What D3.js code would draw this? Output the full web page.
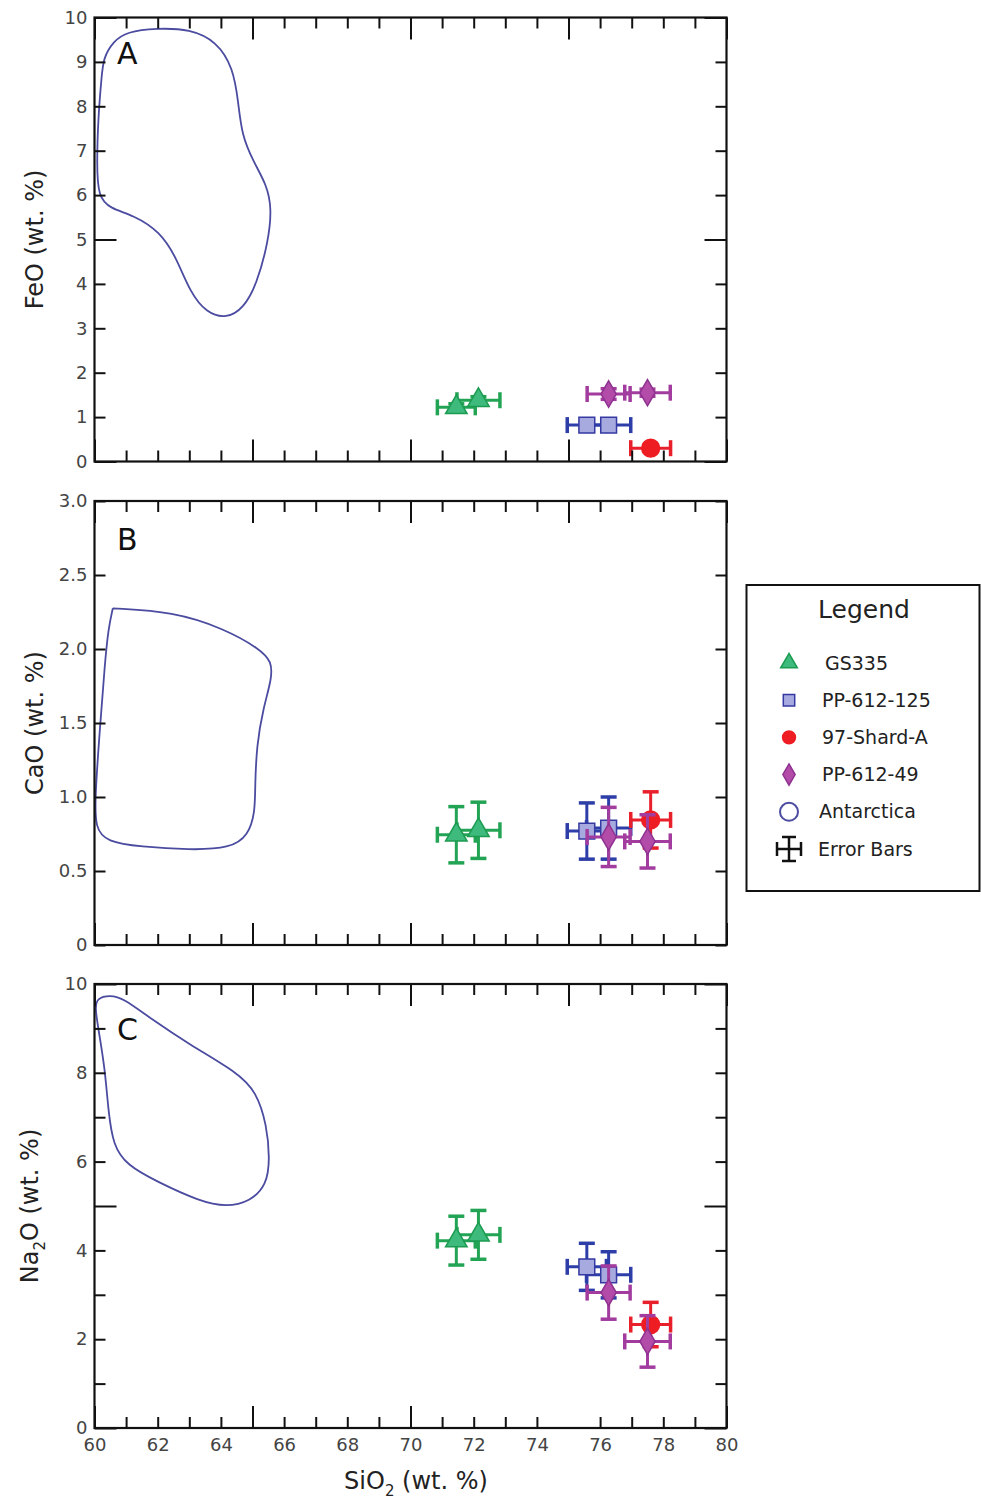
<!DOCTYPE html>
<html>
<head>
<meta charset="utf-8">
<script src="https://cdn.jsdelivr.net/npm/d3@7"></script>
<style>
  body { margin: 0; background: #fff; }
  svg text { font-family: "DejaVu Sans", sans-serif; }
</style>
</head>
<body>
<div id="chart"></div>
<script>
// sample names (legend order) and the points belonging to each one
const sampleNames = ["GS335", "PP-612-125", "97-Shard-A", "PP-612-49"];
const pointSample = ["GS335", "GS335", "PP-612-125", "PP-612-125", "97-Shard-A", "PP-612-49", "PP-612-49"];

// oxide values (wt. %) and 1-sigma errors for each point
const sio2    = [71.45, 72.15, 75.58, 76.27, 77.6, 76.27, 77.5];
const sio2Err = [0.6, 0.68, 0.62, 0.7, 0.63, 0.68, 0.72];
const feo     = [1.22, 1.38, 0.82, 0.82, 0.30, 1.52, 1.55];
const feoErr  = [0.08, 0.08, 0.08, 0.08, 0.08, 0.12, 0.08];
const cao     = [0.745, 0.775, 0.77, 0.79, 0.845, 0.73, 0.70];
const caoErr  = [0.19, 0.19, 0.19, 0.21, 0.19, 0.2, 0.18];
const na2o    = [4.22, 4.35, 3.63, 3.45, 2.33, 3.05, 1.95];
const na2oErr = [0.55, 0.55, 0.53, 0.52, 0.5, 0.6, 0.58];

// Antarctica outlines (closed curves)
const antFeoX = [60.28, 60.59, 61.02, 61.97, 63.02, 63.87, 64.39, 64.55, 64.66, 65.03, 65.45, 65.61, 65.50, 65.13, 64.71, 64.18, 63.55, 63.02, 62.60, 62.07, 61.23, 60.49, 60.12, 60.07, 60.12, 60.23];
const antFeoY = [9.08, 9.46, 9.68, 9.76, 9.74, 9.46, 8.86, 8.10, 7.35, 6.75, 6.23, 5.70, 4.95, 3.98, 3.45, 3.22, 3.34, 3.82, 4.58, 5.18, 5.55, 5.70, 5.96, 6.68, 7.80, 8.70];
const antCaoX = [60.58, 60.58, 60.58, 62.49, 64.08, 65.24, 65.61, 65.61, 65.34, 65.13, 65.08, 65.08, 64.87, 64.29, 63.02, 61.44, 60.39, 60.02, 60.02, 60.17, 60.33, 60.44];
const antCaoY = [2.275, 2.275, 2.275, 2.252, 2.14, 2.00, 1.914, 1.80, 1.60, 1.35, 1.06, 0.90, 0.74, 0.653, 0.642, 0.664, 0.698, 0.788, 1.01, 1.46, 1.91, 2.14];
const antNa2oX = [60.07, 60.49, 60.91, 61.76, 63.02, 64.50, 65.13, 65.45, 65.55, 65.45, 64.92, 64.18, 63.34, 61.97, 61.02, 60.59, 60.44, 60.33, 60.12, 60.02];
const antNa2oY = [9.68, 9.75, 9.68, 9.23, 8.63, 8.02, 7.57, 6.82, 6.07, 5.47, 5.10, 4.98, 5.10, 5.55, 5.92, 6.37, 7.12, 8.10, 9.0, 9.45];

// ticks
const sio2Ticks = d3.range(60, 80.5, 1);
const sio2Labels = d3.range(60, 80.5, 2);
const sio2BottomSkip = [75];
const feoTicks = d3.range(0, 10.5, 1);
const caoTicks = [0, 0.5, 1.0, 1.5, 2.0, 2.5, 3.0];
const na2oTicks = d3.range(0, 10.5, 1);
const na2oLabels = [0, 2, 4, 6, 8, 10];

const colors = {
    "GS335":      { fill: "#3dba7c", stroke: "#1c9b50", err: "#22a454" },
    "PP-612-125": { fill: "#a6aadf", stroke: "#3539a3", err: "#2e3ea8" },
    "97-Shard-A": { fill: "#ee1d24", stroke: "#ee1d24", err: "#e8202b" },
    "PP-612-49":  { fill: "#b24ca8", stroke: "#8f3190", err: "#a23c9e" }
};
const markerSize = { "GS335": 200, "PP-612-125": 250, "97-Shard-A": 250, "PP-612-49": 200 };
const legendSize = { "GS335": 120, "PP-612-125": 130, "97-Shard-A": 130, "PP-612-49": 130 };
const shapeType = {
    "GS335": d3.symbolTriangle,
    "PP-612-125": d3.symbolSquare,
    "97-Shard-A": d3.symbolCircle,
    "PP-612-49": d3.symbolDiamond
};
const outlineColor = "#4b4ca0";

const width = 981, height = 1502;
const left = 94.5, right = 726.5;

const svg = d3.select("#chart").append("svg")
    .attr("width", width)
    .attr("height", height);

const x = d3.scaleLinear().domain([60, 80]).range([left, right]);

const panels = [
    { letter: "A", top: 17.5, bottom: 461.5, domain: [0, 10], ticks: feoTicks, labels: feoTicks, major: 5,
      fmt: d => d3.format("d")(d), values: feo, errs: feoErr, antX: antFeoX, antY: antFeoY,
      title: [["FeO (wt. %)", 0]], letterY: 64, xLabels: false },
    { letter: "B", top: 501, bottom: 945, domain: [0, 3], ticks: caoTicks, labels: caoTicks, major: null,
      fmt: d => d === 0 ? "0" : d3.format(".1f")(d), values: cao, errs: caoErr, antX: antCaoX, antY: antCaoY,
      title: [["CaO (wt. %)", 0]], letterY: 550, xLabels: false },
    { letter: "C", top: 984, bottom: 1428, domain: [0, 10], ticks: na2oTicks, labels: na2oLabels, major: 5,
      fmt: d => d3.format("d")(d), values: na2o, errs: na2oErr, antX: antNa2oX, antY: antNa2oY,
      title: [["Na", 0], ["2", 1], ["O (wt. %)", -1]], letterY: 1040, xLabels: true }
];

const minorLen = 11, majorLen = 22, capLen = 16;

panels.forEach(p => {
    const y = d3.scaleLinear().domain(p.domain).range([p.bottom, p.top]);
    const g = svg.append("g");

    // Antarctica field
    const pts = p.antX.map((v, i) => [x(v), y(p.antY[i])]);
    g.append("path")
        .attr("d", d3.line().curve(d3.curveBasisClosed)(pts))
        .attr("fill", "none")
        .attr("stroke", outlineColor)
        .attr("stroke-width", 1.8);

    // error bars and markers, one sample at a time
    sampleNames.forEach(name => {
        const idx = pointSample.map((s, i) => s === name ? i : -1).filter(i => i >= 0);
        const c = colors[name];
        const eg = g.append("g").attr("stroke", c.err).attr("stroke-width", 3).attr("fill", "none");
        idx.forEach(i => {
            const cx = x(sio2[i]), cy = y(p.values[i]);
            const x0 = x(sio2[i] - sio2Err[i]), x1 = x(sio2[i] + sio2Err[i]);
            const y0 = y(p.values[i] - p.errs[i]), y1 = y(p.values[i] + p.errs[i]);
            eg.append("line").attr("x1", x0).attr("x2", x1).attr("y1", cy).attr("y2", cy);
            eg.append("line").attr("x1", x0).attr("x2", x0).attr("y1", cy - capLen / 2).attr("y2", cy + capLen / 2).attr("stroke-width", 3.5);
            eg.append("line").attr("x1", x1).attr("x2", x1).attr("y1", cy - capLen / 2).attr("y2", cy + capLen / 2).attr("stroke-width", 3.5);
            eg.append("line").attr("x1", cx).attr("x2", cx).attr("y1", y0).attr("y2", y1);
            eg.append("line").attr("x1", cx - capLen / 2).attr("x2", cx + capLen / 2).attr("y1", y0).attr("y2", y0).attr("stroke-width", 3.5);
            eg.append("line").attr("x1", cx - capLen / 2).attr("x2", cx + capLen / 2).attr("y1", y1).attr("y2", y1).attr("stroke-width", 3.5);
        });
        g.selectAll(null)
            .data(idx)
            .join("path")
            .attr("d", d3.symbol(shapeType[name], markerSize[name]))
            .attr("transform", i => `translate(${x(sio2[i])},${y(p.values[i])})`)
            .attr("fill", c.fill)
            .attr("stroke", c.stroke)
            .attr("stroke-width", 1.5);
    });

    // frame
    g.append("rect")
        .attr("x", left).attr("y", p.top)
        .attr("width", right - left).attr("height", p.bottom - p.top)
        .attr("fill", "none").attr("stroke", "#111").attr("stroke-width", 2.2);

    const tickLen = d => (p.major !== null && d % p.major === 0) ? majorLen : minorLen;
    const xTickLen = d => d % 5 === 0 ? majorLen : minorLen;

    // y axes (inward ticks)
    const yl = g.append("g").attr("transform", `translate(${left},0)`)
        .call(d3.axisLeft(y).tickValues(p.ticks).tickSizeInner(-minorLen).tickSizeOuter(0).tickPadding(7)
            .tickFormat(d => p.labels.includes(d) ? p.fmt(d) : ""));
    yl.selectAll(".tick line").attr("x2", d => tickLen(d));
    const yr = g.append("g").attr("transform", `translate(${right},0)`)
        .call(d3.axisRight(y).tickValues(p.ticks).tickSizeInner(-minorLen).tickSizeOuter(0).tickFormat(""));
    yr.selectAll(".tick line").attr("x2", d => -tickLen(d));

    // x axes
    const xt = g.append("g").attr("transform", `translate(0,${p.top})`)
        .call(d3.axisTop(x).tickValues(sio2Ticks).tickSizeInner(-minorLen).tickSizeOuter(0).tickFormat(""));
    xt.selectAll(".tick line").attr("y2", d => xTickLen(d));
    const bottomTicks = p.xLabels ? sio2Ticks.filter(d => !sio2BottomSkip.includes(d)) : sio2Ticks;
    const xb = g.append("g").attr("transform", `translate(0,${p.bottom})`)
        .call(d3.axisBottom(x).tickValues(bottomTicks).tickSizeInner(-minorLen).tickSizeOuter(0).tickPadding(10)
            .tickFormat(d => p.xLabels && sio2Labels.includes(d) ? d3.format("d")(d) : ""));
    xb.selectAll(".tick line").attr("y2", d => -xTickLen(d));

    g.selectAll(".domain").remove();
    g.selectAll(".tick line").attr("stroke", "#111").attr("stroke-width", 2);
    g.selectAll(".tick text").attr("fill", "#444").style("font-size", "18px")
        .style("font-family", "'DejaVu Sans', sans-serif");

    // panel letter
    g.append("text")
        .attr("x", 117).attr("y", p.letterY)
        .style("font-size", "30px")
        .attr("fill", "#111")
        .text(p.letter);

    // y title
    const midY = (p.top + p.bottom) / 2;
    const t = g.append("text")
        .attr("transform", `translate(${p.letter === "C" ? 38 : 43},${midY}) rotate(-90)`)
        .attr("text-anchor", "middle")
        .style("font-size", "24px")
        .attr("fill", "#222");
    p.title.forEach(([s, sub]) => {
        t.append("tspan")
            .attr("dy", sub === 1 ? 7 : sub === -1 ? -7 : 0)
            .style("font-size", sub === 1 ? "15px" : "24px")
            .text(s);
    });
});

// x title
const xTitle = svg.append("text")
    .attr("x", 416).attr("y", 1489)
    .attr("text-anchor", "middle")
    .style("font-size", "24px")
    .attr("fill", "#222");
xTitle.append("tspan").text("SiO");
xTitle.append("tspan").attr("dy", 7).style("font-size", "15px").text("2");
xTitle.append("tspan").attr("dy", -7).text(" (wt. %)");

// legend
const lg = svg.append("g");
lg.append("rect")
    .attr("x", 746.5).attr("y", 585)
    .attr("width", 233).attr("height", 306)
    .attr("fill", "#fff").attr("stroke", "#111").attr("stroke-width", 2);
lg.append("text")
    .attr("x", 864).attr("y", 618)
    .attr("text-anchor", "middle")
    .style("font-size", "25px")
    .attr("fill", "#222")
    .text("Legend");

const legendY = d3.scalePoint().domain([...sampleNames, "Antarctica", "Error Bars"]).range([663, 849]);
sampleNames.forEach(name => {
    const c = colors[name];
    lg.append("path")
        .attr("d", d3.symbol(shapeType[name], legendSize[name])())
        .attr("transform", `translate(789,${legendY(name)})`)
        .attr("fill", c.fill).attr("stroke", c.stroke).attr("stroke-width", 1.5);
    lg.append("text")
        .attr("x", name === "GS335" ? 825 : 822).attr("y", legendY(name))
        .attr("dy", "0.35em")
        .style("font-size", "19px")
        .attr("fill", "#222")
        .text(name);
});
lg.append("circle")
    .attr("cx", 789).attr("cy", legendY("Antarctica")).attr("r", 9)
    .attr("fill", "none").attr("stroke", outlineColor).attr("stroke-width", 2);
lg.append("text")
    .attr("x", 819).attr("y", legendY("Antarctica")).attr("dy", "0.35em")
    .style("font-size", "19px").attr("fill", "#222").text("Antarctica");
const ey = legendY("Error Bars");
const eb = lg.append("g").attr("stroke", "#111").attr("stroke-width", 2.5);
eb.append("line").attr("x1", 777).attr("x2", 801).attr("y1", ey).attr("y2", ey);
eb.append("line").attr("x1", 789).attr("x2", 789).attr("y1", ey - 12).attr("y2", ey + 12);
eb.append("line").attr("x1", 777).attr("x2", 777).attr("y1", ey - 7).attr("y2", ey + 7);
eb.append("line").attr("x1", 801).attr("x2", 801).attr("y1", ey - 7).attr("y2", ey + 7);
eb.append("line").attr("x1", 782).attr("x2", 796).attr("y1", ey - 12).attr("y2", ey - 12);
eb.append("line").attr("x1", 782).attr("x2", 796).attr("y1", ey + 12).attr("y2", ey + 12);
lg.append("text")
    .attr("x", 818).attr("y", ey).attr("dy", "0.35em")
    .style("font-size", "19px").attr("fill", "#222").text("Error Bars");
</script>
</body>
</html>
